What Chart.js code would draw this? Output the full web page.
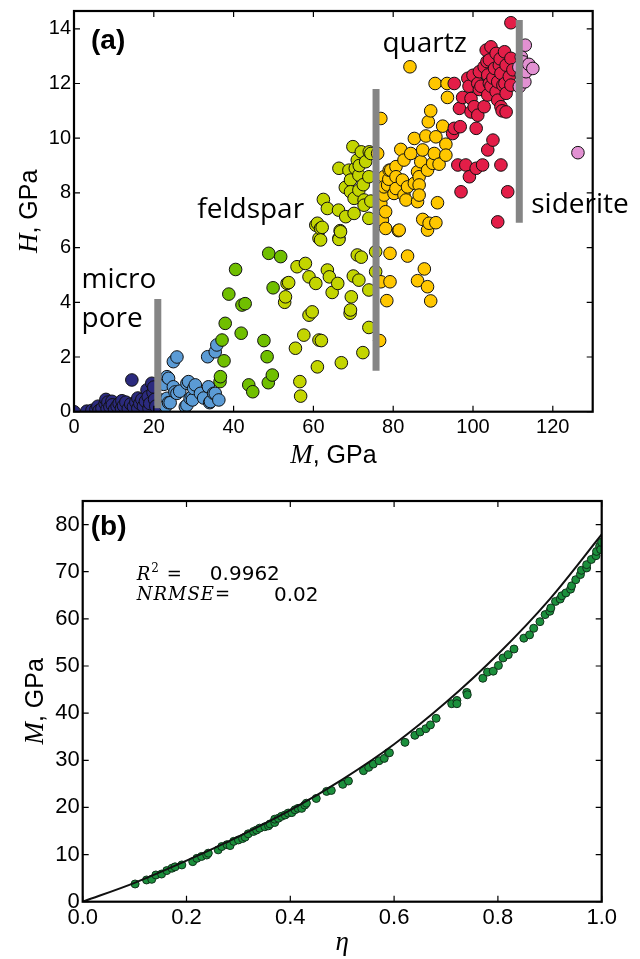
<!DOCTYPE html>
<html>
<head>
<meta charset="utf-8">
<script src="https://cdn.jsdelivr.net/npm/chart.js@4.4.1/dist/chart.umd.min.js"></script>
<style>
  body { margin: 0; background: #fff; }
  #wrap { position: relative; width: 640px; height: 959px; }
  canvas { position: absolute; left: 0; }
  #chartA { top: 0; }
  #chartB { top: 480px; }
</style>
</head>
<body>
<div id="wrap">
  <canvas id="chartA" width="640" height="478" style="width:640px;height:478px"></canvas>
  <canvas id="chartB" width="640" height="479" style="width:640px;height:479px"></canvas>
</div>
<script>
// (a) H vs M, one array of [M, H] per mineral group
const microPore = [[0,0],[3.2,0.02],[4.5,0.05],[5.5,0.08],[6,0.2],[6.3,0.04],[7,0.12],[7.8,0.3],[8,0.45],[8.3,0.1],
  [8.5,0.35],[9,0.18],[9.5,0.38],[9.6,0.25],[10.2,0.08],[10.8,0.2],[11.3,0.3],[11.9,0.12],[12,0.4],[12.4,0.22],
  [13,0.35],[13.6,0.1],[14.2,0.28],[14.5,1.16],[14.9,0.18],[15.5,0.35],[16,0.12],[16,0.5],[16.5,0.3],[17,0.45],
  [17.4,0.2],[17.9,0.38],[18.3,0.8],[18.6,0.55],[18.8,0.12],[19,0.3],[19.5,1.04],[19.8,0.7],[20,0.9],[20.2,0.45],[20.5,0.2]];
const clayGroup = [[21.9,0.43],[22.5,1.0],[22.5,0.4],[23,0.2],[23.3,0.49],[23.3,1.28],[23.7,1.22],[23.7,0.33],[24.1,0.33],
  [24.9,0.91],[24.9,1.83],[25.3,0.72],[25.8,2.0],[25.8,0.67],[26.5,0.75],[27.9,0.18],[28.3,1.04],[28.3,0.24],[28.7,1.1],
  [29.1,0.49],[29.6,0.55],[29.7,0.43],[30,0.85],[30.4,0.98],[31.7,0.67],[32.5,0.5],[33.5,2.01],[33.7,0.91],[34,0.33],
  [34.2,0.37],[35,0.67],[35.4,2.19],[35.4,0.67],[35.8,2.44],[36.3,0.43]];
const carbonateGroup = [[36.6,1.1],[36.7,1.28],[37.1,2.62],[37.6,1.86],[37.9,3.23],[38.8,4.3],[40.5,5.2],[41.9,2.87],
  [42.1,3.9],[42.9,3.95],[43.8,0.98],[44.8,0.73],[47.6,2.6],[48.4,2.01],[48.7,1.06],[48.8,5.79],[49.7,1.34],[49.9,4.53],[51.8,5.67]];
const feldspar = [[52.8,4.0],[53,4.2],[53.4,4.69],[53.8,4.72],[55.5,2.32],[55.9,5.3],[56.6,1.1],[56.8,0.57],[57.6,2.8],
  [58,5.42],[58.9,4.93],[58.9,3.53],[59.7,3.65],[60.6,4.69],[60.6,6.82],[61,1.64],[61,6.89],[61.4,2.62],[61.4,6.34],
  [61.8,6.7],[61.8,6.28],[62,2.6],[62.2,6.74],[62.5,7.76],[63.5,5.18],[63.5,7.43],[64,4.93],[64.7,4.36],[66.1,4.69],
  [66.3,7.37],[66.4,8.9],[66.4,6.34],[66.4,6.3],[66.7,6.62],[66.8,6.58],[67,1.79],[68,8.2],[68.1,7.13],[68.9,8.83],
  [69.2,3.6],[69.3,3.72],[69.3,8.47],[69.3,8.04],[69.5,4.2],[69.9,9.69],[70,4.96],[70.2,7.8],[70.2,7.25],[70.5,8.9],
  [71,9.2],[71,5.73],[71.4,4.81],[71.4,8.65],[71.4,8.1],[71.5,9.0],[72,5.65],[72,9.5],[72.4,2.16],[72.5,8.3],
  [72.7,7.74],[72.7,7.55],[73.1,9.14],[73.9,3.08],[73.9,4.45],[73.9,8.59],[73.9,7.07],[74,9.5],[74.4,9.44],[74.4,7.7],
  [75.6,5.85],[75.6,5.12]];
const feldsparQuartz = [[76.1,9.44],[76.6,2.6],[76.9,10.72],[76.9,7.62],[76.9,4.75],[77.3,7.01],[77.7,8.59],[77.7,7.92],
  [77.7,8.22],[78.1,7.31],[78.1,6.7],[78.4,4.06],[78.6,8.29],[78.9,8.5],[79,8.83],[79.2,5.79],[79.2,4.75],[79.4,8.83],
  [80.2,7.98],[80.7,8.96],[80.7,8.59],[80.7,8.16],[81.3,6.62],[81.5,6.64],[81.9,9.59],[82.3,8.47],[82.7,9.2],[82.7,7.92],
  [83.2,7.74],[83.6,8.22],[83.6,5.69],[84.2,12.61],[84.4,9.44],[85.3,9.99],[85.3,8.35],[86.1,8.77],[86.1,7.68],[86.1,4.79],
  [86.5,8.59],[86.5,8.29],[86.5,7.92],[86.9,9.14],[87.4,9.57],[87.4,7.03],[87.8,5.22],[88.2,10.08],[88.6,8.83],[88.6,6.64],
  [88.6,4.57],[88.8,10.6],[89,6.89],[89.4,11.0],[89.4,4.05],[89.9,9.08],[90.3,9.44],[90.5,12.0],[90.7,10.05],[90.7,6.91],
  [91.1,7.64],[91.5,9.05],[92.4,10.44],[93.2,9.78],[93.2,9.38],[93.5,12.0],[93.6,11.49]];
const quartz = [[94.9,10.17],[95.3,12.0],[95.3,10.36],[96.2,9.02],[96.6,11.09],[96.8,10.42],[97,8.04],[97.4,11.49],
  [98.2,9.02],[98.7,12.19],[99,11.9],[99.1,8.59],[99.5,11.45],[99.5,10.96],[100,12.3],[100.3,11.15],[100.8,10.36],
  [100.8,8.9],[101.2,12.0],[101.2,10.84],[101.6,12.43],[101.6,11.78],[102,11.9],[102.4,9.02],[102.8,12.61],[102.8,11.15],
  [103.3,13.22],[103.5,12.8],[103.7,12.31],[103.7,11.58],[103.7,9.57],[104.1,12.86],[104.1,12.0],[104.5,13.34],[104.5,11.9],
  [105,12.2],[105,9.93],[105.4,12.55],[105.8,13.1],[105.8,11.7],[106.2,12.06],[106.2,11.39],[106.2,6.94],[106.6,12.67],
  [106.8,12.9],[107,12.37],[107,11.15],[107,9.02],[107.3,11.0],[107.5,11.94],[107.9,13.16],[108,12.0],[108.3,12.67],
  [108.3,11.64],[108.3,10.96],[108.7,8.04],[109.1,12.25],[109.5,14.22],[109.5,12.92],[109.5,11.94],[110,12.5]];
const siderite = [[111.5,12.6],[111.6,11.88],[112.1,12.97],[112.1,12.31],[112.5,12.79],[113,12.06],[113.1,13.4],
  [113.3,12.43],[114,12.7],[115,12.55],[126.3,9.47]];
// grey dividers: [M, H from, H to]
const dividers = [[21.0, 0.13, 4.12], [75.7, 1.5, 11.8], [111.6, 6.91, 14.32]];
const ticksM = [0, 20, 40, 60, 80, 100, 120];
const ticksH = [0, 2, 4, 6, 8, 10, 12, 14];

// (b) M vs eta
const etaData = [0.101,0.123,0.133,0.141,0.152,0.162,0.172,0.178,0.191,0.212,0.220,0.229,0.239,0.242,0.261,0.268,0.278,
  0.284,0.291,0.300,0.308,0.313,0.319,0.329,0.335,0.341,0.351,0.358,0.361,0.370,0.370,0.377,0.383,0.390,0.396,0.403,
  0.409,0.415,0.422,0.428,0.431,0.450,0.470,0.479,0.501,0.512,0.541,0.551,0.560,0.571,0.581,0.589,0.591,0.621,0.640,
  0.650,0.661,0.670,0.681,0.711,0.721,0.721,0.740,0.741,0.771,0.780,0.791,0.801,0.810,0.820,0.831,0.850,0.861,0.869,
  0.881,0.891,0.900,0.902,0.911,0.920,0.923,0.931,0.940,0.942,0.950,0.959,0.961,0.971,0.971,0.980,0.989,0.990,0.996,0.998,1.0];
const modulusData = [3.76,4.61,4.75,5.67,5.87,6.6,7.1,7.4,7.8,8.5,9.2,9.6,9.9,10.3,11.0,11.7,12.1,
  11.9,12.8,13.1,13.4,13.7,14.4,14.9,15.2,15.6,15.9,16.1,16.5,16.8,17.5,17.7,18.1,18.4,18.8,18.9,
  19.5,19.8,19.8,20.5,20.9,21.9,23.4,23.6,24.9,25.6,27.8,28.5,29.2,29.9,30.4,31.6,31.6,33.8,35.3,
  36.0,36.7,37.5,38.9,42.0,42.7,42.0,44.4,43.9,47.4,48.7,48.9,50.1,51.7,52.4,53.6,55.9,56.6,58.0,
  59.4,60.9,61.6,62.3,63.7,64.2,64.9,65.5,66.3,67.0,68.3,69.4,70.3,70.8,71.5,72.6,73.4,74.3,75.4,74.7,76.2];
const fitEta = [0, 0.1, 0.2, 0.3, 0.4, 0.5, 0.6, 0.7, 0.8, 0.9, 1.0];
const fitM = [0, 4.0, 8.7, 13.8, 19.4, 25.9, 33.4, 42.3, 52.5, 64.2, 77.9];
const ticksEta = [0, 0.2, 0.4, 0.6, 0.8, 1.0];
const ticksMb = [0, 10, 20, 30, 40, 50, 60, 70, 80];

const pairs = arr => arr.map(p => ({ x: p[0], y: p[1] }));

function drawRuns(ctx, runs, x, y, angle) {
  let w = 0;
  runs.forEach(r => { ctx.font = r.font; r.w = ctx.measureText(r.text).width; w += r.w; });
  ctx.save();
  ctx.translate(x, y);
  ctx.rotate(angle || 0);
  ctx.fillStyle = '#000';
  ctx.textBaseline = 'alphabetic';
  ctx.textAlign = 'left';
  let cx = -w / 2;
  runs.forEach(r => { ctx.font = r.font; ctx.fillText(r.text, cx, r.dy || 0); cx += r.w; });
  ctx.restore();
}

function text(ctx, s, x, y, font) {
  ctx.font = font;
  ctx.fillStyle = '#000';
  ctx.textAlign = 'left';
  ctx.textBaseline = 'alphabetic';
  ctx.fillText(s, x, y);
}

// matplotlib-like box with inward ticks
const frame = {
  id: 'frame',
  afterDatasetsDraw(chart) {
    const { ctx, chartArea: a, scales: { x, y } } = chart;
    ctx.save();
    ctx.strokeStyle = '#000';
    ctx.lineWidth = 1.2;
    ctx.beginPath();
    x.ticks.forEach(t => {
      const p = x.getPixelForValue(t.value);
      ctx.moveTo(p, a.bottom); ctx.lineTo(p, a.bottom - 6);
      ctx.moveTo(p, a.top); ctx.lineTo(p, a.top + 6);
    });
    y.ticks.forEach(t => {
      const p = y.getPixelForValue(t.value);
      ctx.moveTo(a.left, p); ctx.lineTo(a.left + 6, p);
      ctx.moveTo(a.right, p); ctx.lineTo(a.right - 6, p);
    });
    ctx.stroke();
    ctx.lineWidth = 2.2;
    ctx.strokeRect(a.left, a.top, a.right - a.left, a.bottom - a.top);
    ctx.restore();
  }
};

const serifI = 'italic 27px "Liberation Serif"';
const sans = '25px "Liberation Sans"';
const label = '28px "Open Sans"';

const notesA = {
  id: 'notesA',
  afterDraw(chart) {
    const { ctx, chartArea: a, scales: { x, y } } = chart;
    text(ctx, '(a)', a.left + 17, a.top + 38, 'bold 28px "Liberation Sans"');
    text(ctx, 'quartz', x.getPixelForValue(77.3), y.getPixelForValue(13.16), label);
    text(ctx, 'feldspar', x.getPixelForValue(30.9), y.getPixelForValue(7.08), label);
    text(ctx, 'siderite', x.getPixelForValue(114.6), y.getPixelForValue(7.25), label);
    text(ctx, 'micro', x.getPixelForValue(1.9), y.getPixelForValue(4.51), label);
    text(ctx, 'pore', x.getPixelForValue(1.9), y.getPixelForValue(3.11), label);
    drawRuns(ctx, [{ text: 'M', font: serifI }, { text: ', GPa', font: sans }], (a.left + a.right) / 2, 463);
    drawRuns(ctx, [{ text: 'H', font: serifI }, { text: ', GPa', font: sans }], 37, (a.top + a.bottom) / 2, -Math.PI / 2);
  }
};

const notesB = {
  id: 'notesB',
  afterDraw(chart) {
    const { ctx, chartArea: a, scales: { x, y } } = chart;
    text(ctx, '(b)', a.left + 8, a.top + 34, 'bold 28px "Liberation Sans"');
    const x0 = x.getPixelForValue(0.104);
    const y1 = y.getPixelForValue(68.3), y2 = y.getPixelForValue(64.0), y3 = y.getPixelForValue(63.8);
    const math = 'italic 18px "DejaVu Serif"';
    text(ctx, 'R', x0, y1, math);
    ctx.font = math;
    const wR = ctx.measureText('R').width;
    text(ctx, '2', x0 + wR + 1, y1 - 8, '12px "DejaVu Serif"');
    text(ctx, '=', x0 + 30, y1, '18px "DejaVu Serif"');
    text(ctx, '0.9962', x.getPixelForValue(0.245), y1, '20px "DejaVu Sans"');
    ctx.font = math;
    ctx.letterSpacing = '1px';
    text(ctx, 'NRMSE=', x0, y2, math);
    ctx.letterSpacing = '0px';
    text(ctx, '0.02', x.getPixelForValue(0.3686), y3, '20px "DejaVu Sans"');
    drawRuns(ctx, [{ text: 'η', font: 'italic 27px "Liberation Serif"' }], (a.left + a.right) / 2, 470);
    drawRuns(ctx, [{ text: 'M', font: serifI }, { text: ', GPa', font: sans }], 43, (a.top + a.bottom) / 2, -Math.PI / 2);
  }
};

function axis(min, max, values, size, fontSize, pad, horizontal) {
  return {
    type: 'linear', min, max,
    grid: { display: false, drawTicks: false },
    border: { display: false },
    afterBuildTicks: s => { s.ticks = values.map(v => ({ value: v })); },
    afterFit: s => {
      if (horizontal) s.height = size; else s.width = size;
      s.paddingTop = 0; s.paddingBottom = 0; s.paddingLeft = 0; s.paddingRight = 0;
    },
    ticks: {
      color: '#000', padding: pad, autoSkip: false, maxRotation: 0,
      font: { family: 'Liberation Sans', size: fontSize },
      callback: v => horizontal && max === 1 ? v.toFixed(1) : String(v)
    }
  };
}

const dot = (data, color) => ({
  data: pairs(data), backgroundColor: color, borderColor: '#111', borderWidth: 1,
  pointRadius: 6.3, clip: 0
});

const dividerSets = dividers.map(d => ({
  data: [{ x: d[0], y: d[1] }, { x: d[0], y: d[2] }],
  showLine: true, borderColor: '#858585', borderWidth: 7, borderCapStyle: 'butt',
  pointRadius: 0
}));

new Chart(document.getElementById('chartA'), {
  type: 'scatter',
  data: {
    datasets: [
      ...dividerSets,
      dot(siderite, '#e291d2'),
      dot(quartz, '#e31e48'),
      dot(feldsparQuartz, '#ffc700'),
      dot(feldspar, '#c3d500'),
      dot(carbonateGroup, '#70bf00'),
      dot(clayGroup, '#5b9bd5'),
      dot(microPore, '#2b2a7e')
    ]
  },
  options: {
    responsive: false, animation: false, events: [],
    layout: { padding: { top: 11, right: 47.3, bottom: 0, left: 0 } },
    scales: {
      x: axis(0, 130, ticksM, 66.3, 20, 4, true),
      y: axis(0, 14.65, ticksH, 74, 20, 3, false)
    },
    plugins: { legend: { display: false }, tooltip: { enabled: false } }
  },
  plugins: [frame, notesA]
});

new Chart(document.getElementById('chartB'), {
  type: 'scatter',
  data: {
    datasets: [
      {
        type: 'line', data: fitEta.map((e, i) => ({ x: e, y: fitM[i] })),
        borderColor: '#111', borderWidth: 2, pointRadius: 0, cubicInterpolationMode: 'monotone', clip: 0
      },
      {
        data: etaData.map((e, i) => ({ x: e, y: modulusData[i] })),
        backgroundColor: '#1b8f3c', borderColor: '#10301a', borderWidth: 1, pointRadius: 4, clip: 0
      }
    ]
  },
  options: {
    responsive: false, animation: false, events: [],
    layout: { padding: { top: 21, right: 38.3, bottom: 0, left: 0 } },
    scales: {
      x: axis(0, 1, ticksEta, 57.3, 22, 3, true),
      y: axis(0, 85, ticksMb, 82.7, 22, 3, false)
    },
    plugins: { legend: { display: false }, tooltip: { enabled: false } }
  },
  plugins: [frame, notesB]
});
</script>
</body>
</html>
